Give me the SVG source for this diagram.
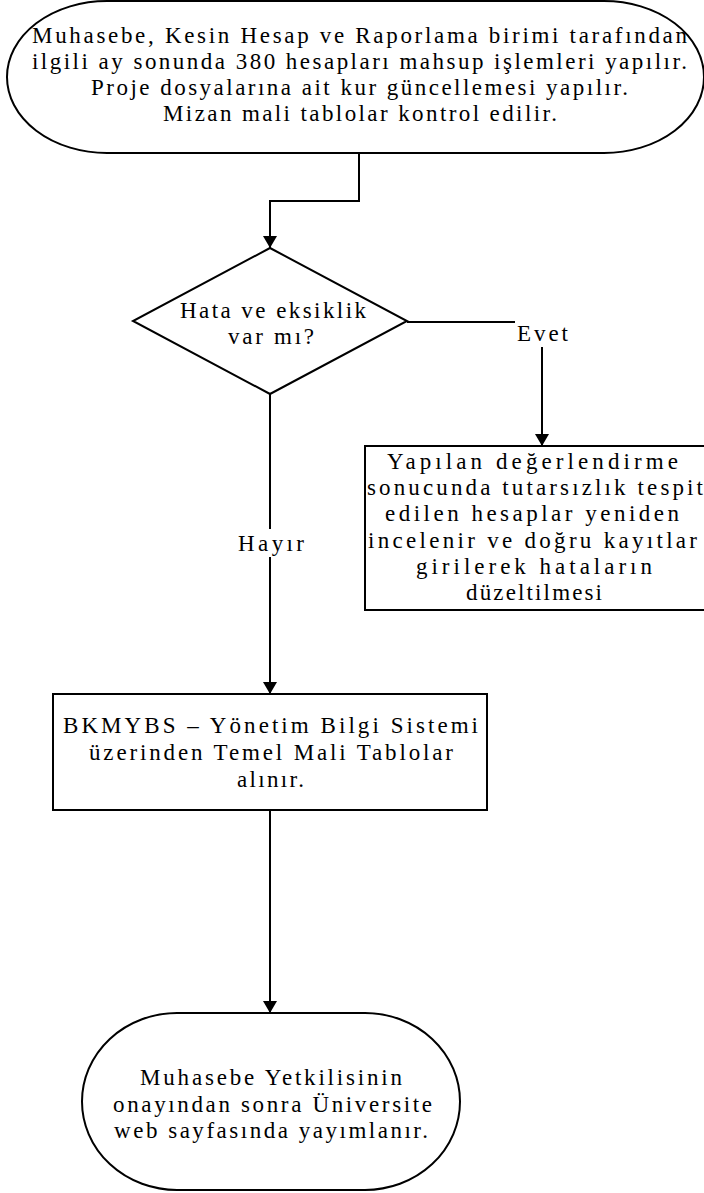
<svg xmlns="http://www.w3.org/2000/svg" width="704" height="1193" viewBox="0 0 704 1193">
<style>
.shape{fill:#fff;stroke:#000;stroke-width:2}
.conn{fill:none;stroke:#000;stroke-width:2}
text{font-family:"Liberation Serif","Times New Roman",serif;font-size:23px;fill:#000;text-anchor:middle}
.st{text-anchor:start}
</style>
<defs>
<marker id="arr" markerUnits="userSpaceOnUse" markerWidth="16" markerHeight="16" refX="12" refY="7" orient="auto">
<path d="M0,0 L12,7 L0,14 Z" fill="#000"/>
</marker>
</defs>
<rect x="0" y="0" width="704" height="1193" fill="#fff"/>
<g id="connectors">
<path class="conn" d="M359,154 V201 H270 V248" marker-end="url(#arr)"/>
<path class="conn" d="M407,322 H515"/>
<path class="conn" d="M542,347 V446" marker-end="url(#arr)"/>
<path class="conn" d="M270,394 V529"/>
<path class="conn" d="M270,557 V694" marker-end="url(#arr)"/>
<path class="conn" d="M270,810 V1013" marker-end="url(#arr)"/>
<text x="517" y="341" class="st" textLength="51" lengthAdjust="spacing">Evet</text>
<text x="271" y="551" textLength="66" lengthAdjust="spacing">Hayır</text>
</g>
<g id="start">
<rect class="shape" x="7" y="1" width="697" height="152" rx="100" ry="76"/>
<text x="359.5" y="43" textLength="655" lengthAdjust="spacing">Muhasebe, Kesin Hesap ve Raporlama birimi tarafından</text>
<text x="359.5" y="69" textLength="655" lengthAdjust="spacing">ilgili ay sonunda 380 hesapları mahsup işlemleri yapılır.</text>
<text x="359.5" y="95" textLength="537" lengthAdjust="spacing">Proje dosyalarına ait kur güncellemesi yapılır.</text>
<text x="360" y="121" textLength="394" lengthAdjust="spacing">Mizan mali tablolar kontrol edilir.</text>
</g>
<g id="decision">
<polygon class="shape" points="270,248 407,321 270,394 133,321"/>
<text x="273" y="318" textLength="186" lengthAdjust="spacing">Hata ve eksiklik</text>
<text x="271" y="344" textLength="86" lengthAdjust="spacing">var mı?</text>
</g>
<g id="correction">
<rect class="shape" x="365" y="446" width="340" height="164"/>
<text x="532.5" y="469" textLength="291" lengthAdjust="spacing">Yapılan değerlendirme</text>
<text x="535" y="495" textLength="336" lengthAdjust="spacing">sonucunda tutarsızlık tespit</text>
<text x="532" y="521" textLength="294" lengthAdjust="spacing">edilen hesaplar yeniden</text>
<text x="532.5" y="548" textLength="329" lengthAdjust="spacing">incelenir ve doğru kayıtlar</text>
<text x="534" y="574" textLength="236" lengthAdjust="spacing">girilerek hataların</text>
<text x="534" y="600" textLength="136" lengthAdjust="spacing">düzeltilmesi</text>
</g>
<g id="report">
<rect class="shape" x="53" y="694" width="434" height="116"/>
<text x="270.5" y="733" textLength="415" lengthAdjust="spacing">BKMYBS – Yönetim Bilgi Sistemi</text>
<text x="271" y="760" textLength="364" lengthAdjust="spacing">üzerinden Temel Mali Tablolar</text>
<text x="270.5" y="787" textLength="67" lengthAdjust="spacing">alınır.</text>
</g>
<g id="end">
<rect class="shape" x="82" y="1013" width="378" height="177" rx="95" ry="88.5"/>
<text x="271" y="1085" textLength="262" lengthAdjust="spacing">Muhasebe Yetkilisinin</text>
<text x="272.5" y="1112" textLength="319" lengthAdjust="spacing">onayından sonra Üniversite</text>
<text x="271" y="1138" textLength="314" lengthAdjust="spacing">web sayfasında yayımlanır.</text>
</g>
</svg>
